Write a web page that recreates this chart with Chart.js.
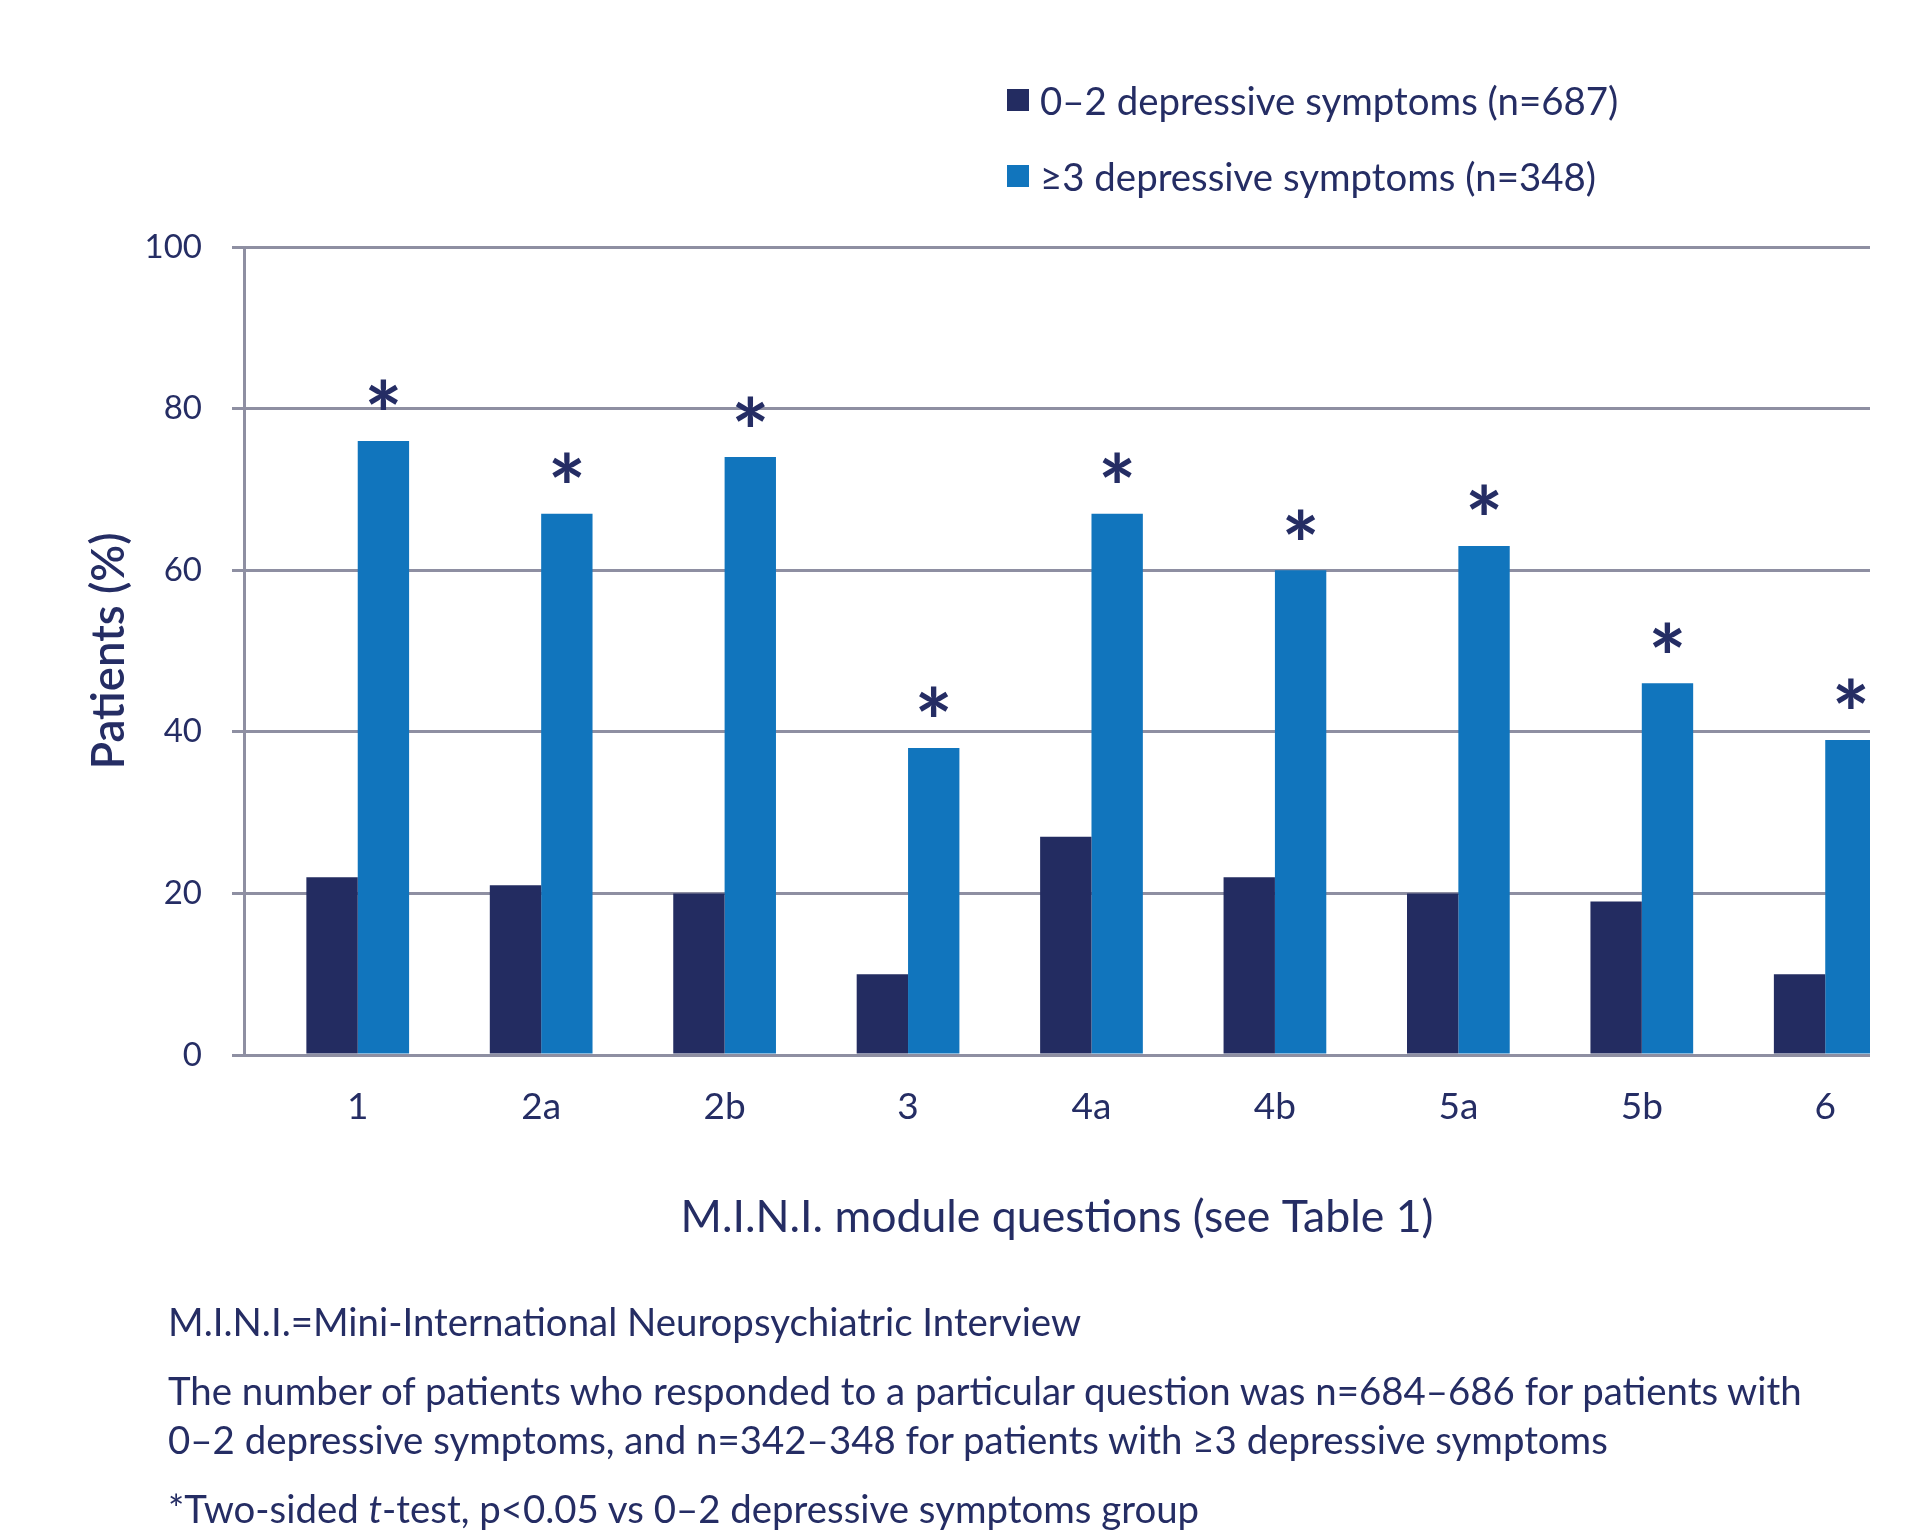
<!DOCTYPE html>
<html>
<head>
<meta charset="utf-8">
<title>M.I.N.I. module questions by depressive symptom group</title>
<script src="https://cdn.jsdelivr.net/npm/chart.js@4.4.1/dist/chart.umd.min.js"></script>
<style>
  html, body { margin: 0; padding: 0; background: #ffffff; }
  body {
    width: 1920px; height: 1537px; position: relative; overflow: hidden;
    font-family: Lato, "Open Sans", sans-serif; color: #252d64;
  }
  #chartBox { position: absolute; left: 0; top: 0; width: 1920px; height: 1537px; }
  #legend { position: absolute; left: 1007px; top: 0; }
  .legend-row {
    position: absolute; left: 0; height: 44px; display: flex; align-items: center;
    white-space: nowrap; font-size: 38.4px;
  }
  .legend-swatch { width: 22px; height: 22px; margin-right: 11px; flex: none; }
  .note { position: absolute; left: 168px; font-size: 38.4px; white-space: nowrap; line-height: 49px; }
</style>
</head>
<body>
<div id="chartBox"><canvas id="chart" width="1920" height="1537"></canvas></div>
<div id="legend"></div>
<div class="note" style="top:1297px">M.I.N.I.=Mini-International Neuropsychiatric Interview</div>
<div class="note" style="top:1366px">The number of patients who responded to a particular question was n=684–686 for patients with<br>0–2 depressive symptoms, and n=342–348 for patients with ≥3 depressive symptoms</div>
<div class="note" style="top:1484px">*Two-sided <i>t</i>-test, p&lt;0.05 vs 0–2 depressive symptoms group</div>

<script>
// Question labels along the x axis
const questions = ['1', '2a', '2b', '3', '4a', '4b', '5a', '5b', '6'];
// Share of patients (%) answering yes, per group
const lowSymptoms = [22, 21, 20, 10, 27, 22, 20, 19, 10];
const highSymptoms = [76, 67, 74, 38, 67, 60, 63, 46, 39];
// Significant difference between the groups (marked with *)
const significant = [true, true, true, true, true, true, true, true, true];
// Y axis tick values
const yTicks = [0, 20, 40, 60, 80, 100];

const seriesLabels = ['0–2 depressive symptoms (n=687)', '≥3 depressive symptoms (n=348)'];

const NAVY = '#232c61';
const BLUE = '#1175bd';
const TEXT = '#252d64';
const GRID = '#8e8fa2';
const FONT = 'Lato, "Open Sans", sans-serif';

// HTML legend, stacked in two rows
const legendEl = document.getElementById('legend');
[NAVY, BLUE].forEach((color, i) => {
  const row = document.createElement('div');
  row.className = 'legend-row';
  row.style.top = (78 + i * 76) + 'px';
  const sw = document.createElement('span');
  sw.className = 'legend-swatch';
  sw.style.background = color;
  const tx = document.createElement('span');
  tx.textContent = seriesLabels[i];
  row.appendChild(sw);
  row.appendChild(tx);
  legendEl.appendChild(row);
});

// Asterisks above the bars of the ≥3 symptoms group
const significancePlugin = {
  id: 'significance',
  afterDatasetsDraw(chart) {
    const meta = chart.getDatasetMeta(1);
    const ctx = chart.ctx;
    ctx.save();
    ctx.font = 'bold 90px ' + FONT;
    ctx.fillStyle = TEXT;
    ctx.textAlign = 'center';
    ctx.textBaseline = 'alphabetic';
    const m = ctx.measureText('*');
    const mid = (m.actualBoundingBoxAscent - m.actualBoundingBoxDescent) / 2;
    meta.data.forEach((bar, i) => {
      if (!significant[i]) return;
      ctx.fillText('*', bar.x, bar.y - 46 + mid);
    });
    ctx.restore();
  }
};

const toPoints = arr => arr.map((v, i) => ({ x: i, y: v }));

new Chart(document.getElementById('chart'), {
  type: 'bar',
  data: {
    datasets: [
      { label: seriesLabels[0], data: toPoints(lowSymptoms), backgroundColor: NAVY, borderWidth: 0, clip: 0 },
      { label: seriesLabels[1], data: toPoints(highSymptoms), backgroundColor: BLUE, borderWidth: 0, clip: 0 }
    ]
  },
  options: {
    responsive: false,
    animation: false,
    devicePixelRatio: 1,
    categoryPercentage: 0.56,
    barPercentage: 1.0,
    layout: { padding: { top: 247, right: 50, bottom: 282, left: 0 } },
    plugins: {
      legend: { display: false },
      tooltip: { enabled: false }
    },
    scales: {
      x: {
        type: 'linear',
        offset: false,
        min: -0.62,
        max: 8.244,
        afterFit: axis => { axis.height = 200; },
        afterBuildTicks: axis => { axis.ticks = questions.map((_, i) => ({ value: i })); },
        grid: { display: false, drawTicks: false, tickLength: 0 },
        border: { display: false },
        ticks: {
          autoSkip: false,
          maxRotation: 0,
          padding: 34,
          color: TEXT,
          font: { family: FONT, size: 37, lineHeight: 1 },
          callback: v => questions[v] ?? ''
        },
        title: {
          display: true,
          text: 'M.I.N.I. module questions (see Table 1)',
          color: TEXT,
          font: { family: FONT, size: 44.6, lineHeight: 1 },
          padding: { top: 0, bottom: 15 }
        }
      },
      y: {
        min: 0,
        max: 100,
        afterFit: axis => { axis.width = 244; },
        afterBuildTicks: axis => { axis.ticks = yTicks.map(v => ({ value: v })); },
        grid: { color: GRID, lineWidth: 3, tickLength: 12, drawTicks: true, tickColor: GRID },
        border: { display: true, color: GRID, width: 3 },
        ticks: {
          padding: 30,
          color: TEXT,
          font: { family: FONT, size: 33, lineHeight: 1 }
        },
        title: {
          display: true,
          text: 'Patients (%)',
          color: TEXT,
          font: { family: FONT, size: 45.5, weight: '600', lineHeight: 1 },
          padding: { top: 87, bottom: 0 }
        }
      }
    }
  },
  plugins: [significancePlugin]
});
</script>
</body>
</html>
